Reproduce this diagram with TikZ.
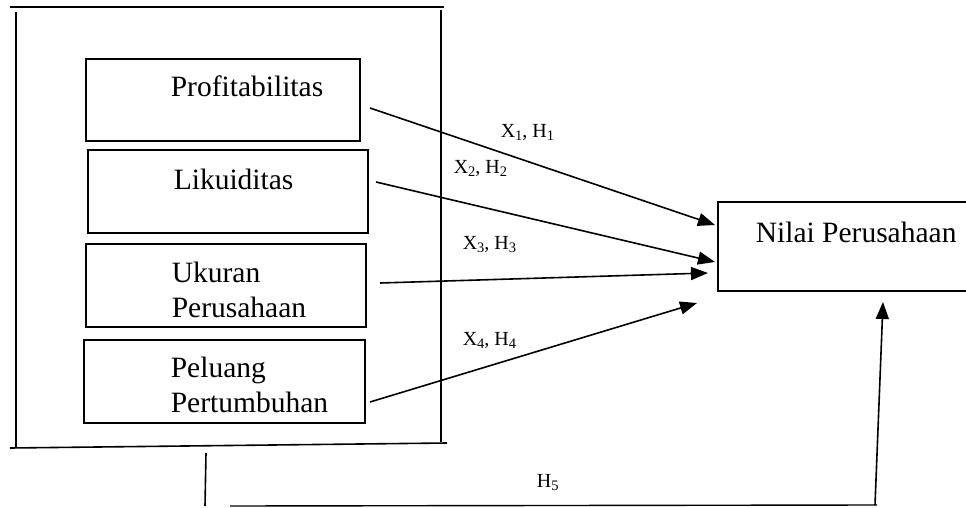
\documentclass[tikz,border=0pt]{standalone}
\usepackage{fontspec}
\setmainfont{Liberation Serif}
\usetikzlibrary{arrows.meta}
\newcommand{\bigtxt}{\fontsize{29.5}{34}\selectfont}
\newcommand{\lbltxt}{\fontsize{20}{24}\selectfont}
\newcommand{\mysub}[1]{\raisebox{-3pt}{\fontsize{14.5}{16}\selectfont #1}}
\begin{document}
\begin{tikzpicture}[x=1pt,y=-1pt,line width=1.6pt,
  box/.style={draw,line width=1.8pt,inner sep=0pt},
  txt/.style={anchor=base west,inner sep=0pt,font=\bigtxt},
  lbl/.style={anchor=base west,inner sep=0pt,font=\lbltxt},
  arr/.style={-{Triangle[length=17pt,width=13pt]}},
  frame/.style={line width=1.6pt}]
\useasboundingbox (0,0) rectangle (966,508);
% outer frame
\coordinate (ft1) at (10,7);   \coordinate (ft2) at (444,7);
\coordinate (fl1) at (16,12);  \coordinate (fl2) at (16,448);
\coordinate (fr1) at (441,10); \coordinate (fr2) at (441,442);
\coordinate (fb1) at (10,448); \coordinate (fb2) at (447,443);
\draw[frame] (ft1) -- (ft2);
\draw[frame] (fl1) -- (fl2);
\draw[frame] (fr1) -- (fr2);
\draw[frame] (fb1) -- (fb2);
% boxes
\node[box,minimum width=274pt,minimum height=82pt] (bp) at (223,100) {};
\node[box,minimum width=280pt,minimum height=83pt] (bl) at (228,191.5) {};
\node[box,minimum width=280pt,minimum height=83pt] (bu) at (226,285.5) {};
\node[box,minimum width=281pt,minimum height=83pt] (bg) at (224.5,381.5) {};
\node[box,minimum width=260pt,minimum height=89pt] (bn) at (848,246.5) {};
% texts
\node[txt] (tp) at (170,97) {Profitabilitas};
\node[txt] (tl) at (173,189) {Likuiditas};
\node[txt] (tu1) at (171,282) {Ukuran};
\node[txt] (tu2) at (171,317) {Perusahaan};
\node[txt] (tg1) at (170,377) {Peluang};
\node[txt] (tg2) at (170,412) {Pertumbuhan};
\node[txt] (tn) at (755,242) {Nilai Perusahaan};
% labels
\node[lbl] (l1) at (500,138) {X\mysub{1}, H\mysub{1}};
\node[lbl] (l2) at (453,173) {X\mysub{2}, H\mysub{2}};
\node[lbl] (l3) at (462,249) {X\mysub{3}, H\mysub{3}};
\node[lbl] (l4) at (462,345) {X\mysub{4}, H\mysub{4}};
\node[lbl] (l5) at (536,487) {H\mysub{5}};
% arrows
\coordinate (s1) at (370,108); \coordinate (e1) at (715,225);
\coordinate (s2) at (376,182); \coordinate (e2) at (715,262);
\coordinate (s3) at (380,283); \coordinate (e3) at (708,273);
\coordinate (s4) at (370,402); \coordinate (e4) at (697,303);
\draw[arr] (s1) -- (e1);
\draw[arr] (s2) -- (e2);
\draw[arr] (s3) -- (e3);
\draw[arr] (s4) -- (e4);
% H5 path
\coordinate (v1) at (206,453); \coordinate (v2) at (205,506);
\draw (v1) -- (v2);
\coordinate (h1) at (230,506); \coordinate (h2) at (877,505);
\draw[line width=1.4pt] (h1) -- (h2);
\coordinate (u1) at (875,505); \coordinate (u2) at (883,302);
\draw[arr] (u1) -- (u2);
\end{tikzpicture}
\end{document}
